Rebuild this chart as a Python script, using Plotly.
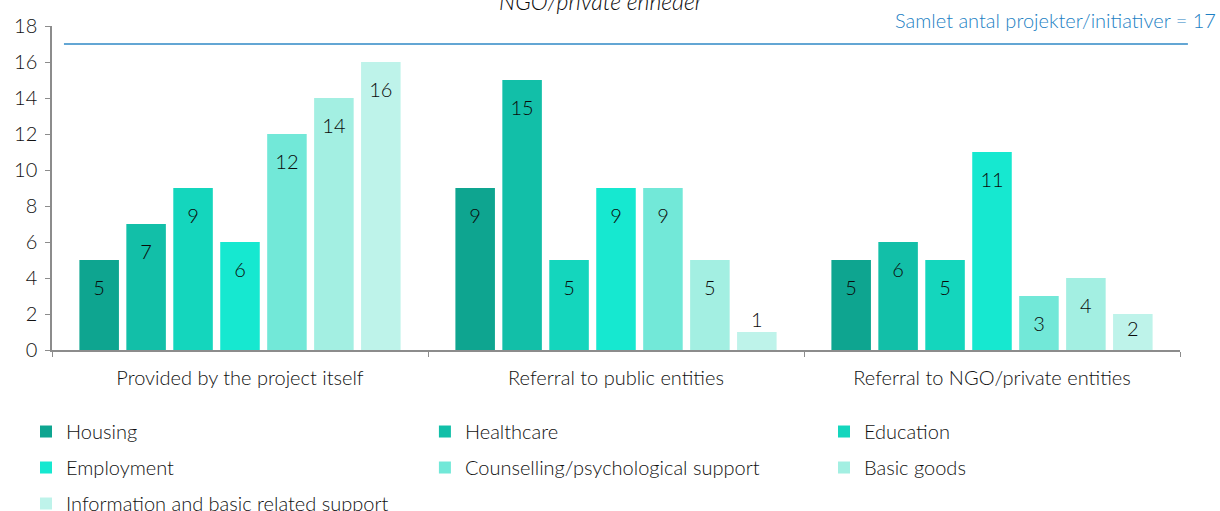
import plotly.graph_objects as go

categories = ["Provided by the project itself", "Referral to public entities", "Referral to NGO/private entities"]
series_names = ["Housing", "Healthcare", "Education", "Employment",
                "Counselling/psychological support", "Basic goods",
                "Information and basic related support"]
values = {
    "Housing": [5, 9, 5],
    "Healthcare": [7, 15, 6],
    "Education": [9, 5, 5],
    "Employment": [6, 9, 11],
    "Counselling/psychological support": [12, 9, 3],
    "Basic goods": [14, 5, 4],
    "Information and basic related support": [16, 1, 2],
}
colors = ["#0ea590", "#12bfa8", "#14d6bd", "#16e8d0", "#72e8d8", "#a3efe2", "#bef3ea"]
# legend columns (as laid out in the reference: 3 columns, filled row by row)
legend_columns = [["Housing", "Employment", "Information and basic related support"],
                  ["Healthcare", "Counselling/psychological support"],
                  ["Education", "Basic goods"]]
total_projects = 17
y_ticks = [0, 2, 4, 6, 8, 10, 12, 14, 16, 18]

FONT = "Lato"
TXT = "#111111"
FS = 20
LBL = "#0a0a0a"
W = 300


def label_style(v):
    # Excel-like "inside end" labels: below the bar top, clamped for short bars,
    # above the bar when it is too short to hold the label
    if v >= 3:
        return "bottom center", 30
    if v >= 2:
        return "bottom center", 9
    return "top center", 0


legend_of = {}
for i, col_names in enumerate(legend_columns):
    for n in col_names:
        legend_of[n] = "legend" if i == 0 else "legend%d" % (i + 1)

fig = go.Figure()
for name, col in zip(series_names, colors):
    vals = values[name]
    fig.add_trace(go.Bar(
        name=name, x=categories, y=vals, marker_color=col,
        marker_line_width=0,
        legend=legend_of[name], legendgroup=name,
        hovertemplate="%{x}<br>" + name + ": %{y}<extra></extra>",
    ))
for name, col in zip(series_names, colors):
    vals = values[name]
    styles = [label_style(v) for v in vals]
    fig.add_trace(go.Scatter(
        x=categories, y=vals, mode="markers+text",
        marker=dict(size=[s[1] for s in styles], color="rgba(0,0,0,0)",
                    opacity=0, line=dict(width=0)),
        text=[str(v) for v in vals],
        textposition=[s[0] for s in styles],
        textfont=dict(family=FONT, size=FS, color=LBL, weight=W),
        showlegend=False, hoverinfo="skip", cliponaxis=False,
    ))

fig.add_shape(type="line", xref="paper", yref="y",
              x0=0.0106, x1=1.007, y0=total_projects, y1=total_projects,
              line=dict(color="#2f88c6", width=1.3))

fig.add_annotation(text="Samlet antal projekter/initiativer = %d" % total_projects,
                   xref="paper", yref="paper", x=1.0337, y=1.0185,
                   xanchor="right", yanchor="middle", showarrow=False,
                   font=dict(family=FONT, size=FS, color="#1c7fc4", weight=W))
fig.add_annotation(text="<i>NGO/private enheder</i>",
                   xref="paper", yref="paper", x=0.487, y=1.0772,
                   xanchor="center", yanchor="middle", showarrow=False,
                   font=dict(family=FONT, size=23, color="#0a0a0a", weight=W))

leg_common = dict(orientation="v", y=-0.1914, yanchor="top", xanchor="left",
                  font=dict(family=FONT, size=FS, color=TXT, weight=W),
                  tracegroupgap=7, traceorder="grouped", bgcolor="rgba(0,0,0,0)")

fig.update_layout(
    width=1220, height=511,
    margin=dict(l=52, r=40, t=26, b=161, autoexpand=False),
    paper_bgcolor="white", plot_bgcolor="white",
    barmode="group", bargap=0.126, bargroupgap=0.158,
    scattermode="group", scattergap=0.126,
    font=dict(family=FONT, size=FS, color=TXT, weight=W),
    showlegend=True,
    legend=dict(x=-0.02305, **leg_common),
    legend2=dict(x=0.3306, **leg_common),
    legend3=dict(x=0.6844, **leg_common),
)
fig.update_xaxes(showline=True, linecolor="#8c8c8c", linewidth=1.5,
                 ticks="outside", tickson="boundaries", ticklen=5, tickcolor="#8c8c8c",
                 ticklabelstandoff=9,
                 tickfont=dict(family=FONT, size=FS, color=TXT, weight=W), showgrid=False)
fig.update_yaxes(range=[0, 18], tickvals=y_ticks, showline=True, linecolor="#8c8c8c",
                 linewidth=1.5, ticks="outside", ticklen=5, tickcolor="#8c8c8c",
                 ticklabelstandoff=4,
                 tickfont=dict(family=FONT, size=FS, color=TXT, weight=W), showgrid=False,
                 zeroline=False)

fig.write_html("out.html", config={"displayModeBar": False},
               post_script="document.body.style.margin='0';")
